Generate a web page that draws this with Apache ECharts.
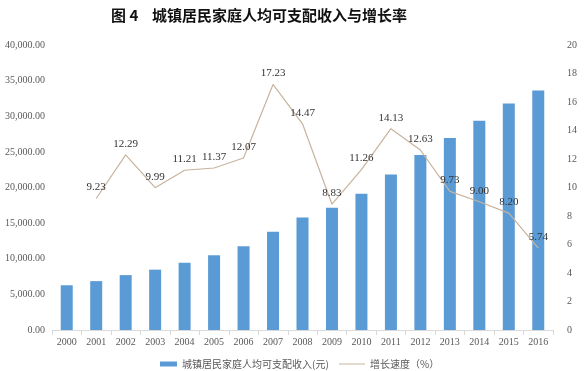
<!DOCTYPE html>
<html>
<head>
<meta charset="utf-8">
<script src="https://cdn.jsdelivr.net/npm/echarts@6/dist/echarts.min.js"></script>
<style>
html,body{margin:0;padding:0;background:#fff;}
#c{width:584px;height:371px;}
</style>
</head>
<body>
<div id="c"></div>
<script>
const years = ['2000','2001','2002','2003','2004','2005','2006','2007','2008','2009','2010','2011','2012','2013','2014','2015','2016'];
const income = [6280, 6860, 7703, 8472, 9422, 10493, 11759, 13786, 15781, 17175, 19109, 21810, 24565, 26955, 29381, 31790, 33616];
const growth = [null, 9.23, 12.29, 9.99, 11.21, 11.37, 12.07, 17.23, 14.47, 8.83, 11.26, 14.13, 12.63, 9.73, 9.00, 8.20, 5.74];
const titleText = '图 4    城镇居民家庭人均可支配收入与增长率';
const incomeName = '城镇居民家庭人均可支配收入(元)';
const growthName = '增长速度（%）';

const chart = echarts.init(document.getElementById('c'));
const serif = '"Liberation Serif", "DejaVu Serif", serif';
const cjk = '"Noto Sans CJK SC", sans-serif';
const lineColor = '#c8b39e';
chart.setOption({
  backgroundColor: '#ffffff',
  animation: false,
  title: {
    text: titleText,
    left: 106,
    top: 3,
    textStyle: {fontFamily: cjk, fontSize: 15, fontWeight: 'bold', color: '#111'}
  },
  legend: [
    {
      top: 354, left: 155,
      itemWidth: 17, itemHeight: 5,
      textStyle: {fontFamily: cjk, fontSize: 10, color: '#595959'},
      data: [{name: incomeName, icon: 'rect'}]
    },
    {
      top: 354, left: 334,
      itemWidth: 26, itemHeight: 1,
      textStyle: {fontFamily: cjk, fontSize: 10, color: '#595959'},
      data: [{name: growthName, icon: 'rect', itemStyle: {color: lineColor, opacity: 1}}]
    }
  ],
  grid: {left: 52, right: 31, top: 45, bottom: 41},
  xAxis: {
    type: 'category',
    data: years,
    axisLine: {lineStyle: {color: '#d9d9d9'}},
    axisTick: {show: true, lineStyle: {color: '#d9d9d9'}},
    axisLabel: {fontFamily: serif, fontSize: 10, color: '#595959', margin: 7}
  },
  yAxis: [
    {
      type: 'value', min: 0, max: 40000, interval: 5000,
      splitLine: {show: false},
      axisLine: {show: false}, axisTick: {show: false},
      axisLabel: {
        fontFamily: serif, fontSize: 10, color: '#595959', margin: 7,
        formatter: v => v.toLocaleString('en-US', {minimumFractionDigits: 2, maximumFractionDigits: 2})
      }
    },
    {
      type: 'value', min: 0, max: 20, interval: 2,
      splitLine: {show: false},
      axisLine: {show: false}, axisTick: {show: false},
      axisLabel: {fontFamily: serif, fontSize: 10, color: '#595959', margin: 14}
    }
  ],
  series: [
    {
      name: incomeName,
      type: 'bar',
      data: income,
      barWidth: 12,
      itemStyle: {color: '#5b9bd5'}
    },
    {
      name: growthName,
      type: 'line',
      yAxisIndex: 1,
      data: growth,
      symbol: 'circle',
      symbolSize: 1,
      showSymbol: true,
      lineStyle: {color: lineColor, width: 1.2},
      itemStyle: {color: 'rgba(0,0,0,0)', borderWidth: 0},
      label: {
        show: true, position: 'top', distance: 5,
        fontFamily: serif, fontSize: 11, color: '#333',
        formatter: p => p.value == null ? '' : Number(p.value).toFixed(2)
      },
      labelLayout: {hideOverlap: false}
    }
  ]
});
</script>
</body>
</html>
